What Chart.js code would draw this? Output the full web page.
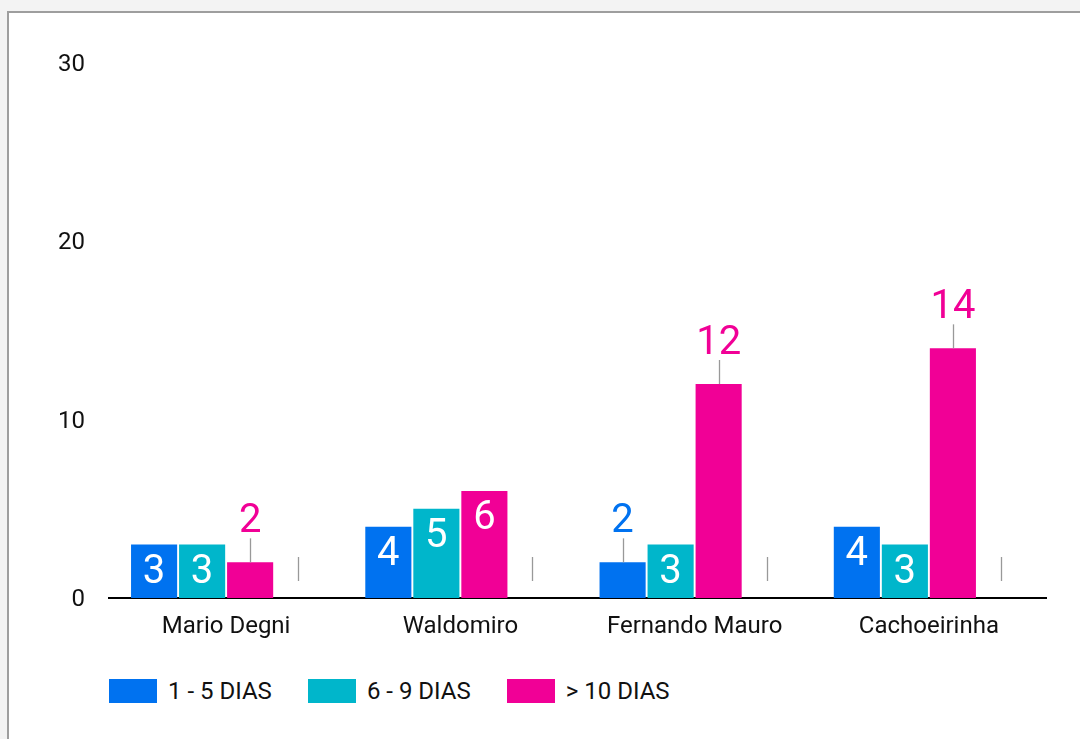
<!DOCTYPE html>
<html><head><meta charset="utf-8">
<script src="https://cdn.jsdelivr.net/npm/chart.js@4.4.1/dist/chart.umd.min.js"></script>
<style>
html,body{margin:0;padding:0;background:#f3f3f3;width:1080px;height:739px;overflow:hidden;font-family:Roboto,sans-serif;}
#card{position:absolute;left:7px;top:11px;width:1200px;height:800px;border:2px solid #9e9e9e;background:#fff;box-sizing:border-box;}
#wrap{position:absolute;left:0;top:0;width:1080px;height:660px;}
#legend{position:absolute;left:109px;top:679px;display:flex;align-items:center;height:24px;}
.item{display:flex;align-items:center;margin-right:36px;}
.box{width:48px;height:24px;margin-right:11px;}
.txt{font-size:24px;line-height:24px;color:#111;white-space:nowrap;}
</style></head>
<body>
<div id="card"></div>
<div id="wrap"><canvas id="c" width="1080" height="660"></canvas></div>
<div id="legend"></div>
<script>
const categories = ['Mario Degni', 'Waldomiro', 'Fernando Mauro', 'Cachoeirinha'];
const seriesNames = ['1 - 5 DIAS', '6 - 9 DIAS', '> 10 DIAS'];
const seriesColors = ['#0072f0', '#00b6cb', '#f10096'];
const days1to5 = [3, 4, 2, 4];
const days6to9 = [3, 5, 3, 3];
const days10plus = [2, 6, 12, 14];
const emptySeries = [null, null, null, null];
const yTicks = [0, 10, 20, 30];

const seriesValues = [days1to5, days6to9, days10plus];
const datasets = seriesValues.map((vals, i) => ({
  label: seriesNames[i], data: vals, backgroundColor: seriesColors[i], borderWidth: 0
}));
datasets.push({ label: '', data: emptySeries, backgroundColor: '#f66d00', borderWidth: 0 });

// HTML legend from series arrays
const legend = document.getElementById('legend');
seriesNames.forEach((n, i) => {
  const it = document.createElement('div'); it.className = 'item';
  const b = document.createElement('div'); b.className = 'box'; b.style.background = seriesColors[i];
  const t = document.createElement('div'); t.className = 'txt'; t.textContent = n;
  it.appendChild(b); it.appendChild(t); legend.appendChild(it);
});

const labelPlugin = {
  id: 'barLabels',
  afterDatasetsDraw(chart) {
    const ctx = chart.ctx;
    const y0 = chart.scales.y.getPixelForValue(0);
    const cap = 28;
    ctx.save();
    ctx.font = '40px Roboto';
    ctx.textAlign = 'center';
    ctx.textBaseline = 'alphabetic';
    ctx.strokeStyle = '#999999';
    ctx.lineWidth = 1.3;
    chart.data.datasets.forEach((ds, di) => {
      const meta = chart.getDatasetMeta(di);
      meta.data.forEach((bar, i) => {
        const v = ds.data[i];
        const p = bar.getProps(['x', 'y', 'base', 'width'], true);
        const sx = Math.round(p.x) + 0.5;
        if (v === null || v === undefined) {
          if (isFinite(p.x)) {
            ctx.beginPath(); ctx.moveTo(sx, y0 - 17); ctx.lineTo(sx, y0 - 41); ctx.stroke();
          }
          return;
        }
        const txt = String(v);
        const w = ctx.measureText(txt).width;
        const h = p.base - p.y;
        if (w + 4 <= p.width && h >= cap + 20) {
          ctx.fillStyle = '#ffffff';
          ctx.fillText(txt, p.x, p.y + 10 + cap);
        } else {
          ctx.beginPath(); ctx.moveTo(sx, p.y); ctx.lineTo(sx, p.y - 24); ctx.stroke();
          ctx.fillStyle = ds.backgroundColor;
          ctx.fillText(txt, p.x, p.y - 30);
        }
      });
    });
    ctx.restore();
  }
};

new Chart(document.getElementById('c'), {
  type: 'bar',
  data: { labels: categories, datasets },
  options: {
    responsive: false,
    animation: false,
    layout: { padding: { top: 63, right: 34, bottom: 22, left: 0 } },
    plugins: { legend: { display: false }, tooltip: { enabled: false } },
    datasets: { bar: { categoryPercentage: 0.82, barPercentage: 0.96 } },
    scales: {
      x: {
        grid: { display: false, drawTicks: false },
        border: { display: true, color: '#000000', width: 2 },
        ticks: { color: '#111', font: { family: 'Roboto', size: 24 }, padding: 15, maxRotation: 0, autoSkip: false },
        afterFit(s) { s.height = 40; }
      },
      y: {
        min: yTicks[0], max: yTicks[yTicks.length - 1],
        afterBuildTicks(s) { s.ticks = yTicks.map(v => ({ value: v })); },
        grid: { display: false, drawTicks: false },
        border: { display: false },
        ticks: { color: '#111', font: { family: 'Roboto', size: 24 }, padding: 24, labelOffset: 2 },
        afterFit(s) { s.width = 109; }
      }
    }
  },
  plugins: [labelPlugin]
});
</script>
</body></html>
